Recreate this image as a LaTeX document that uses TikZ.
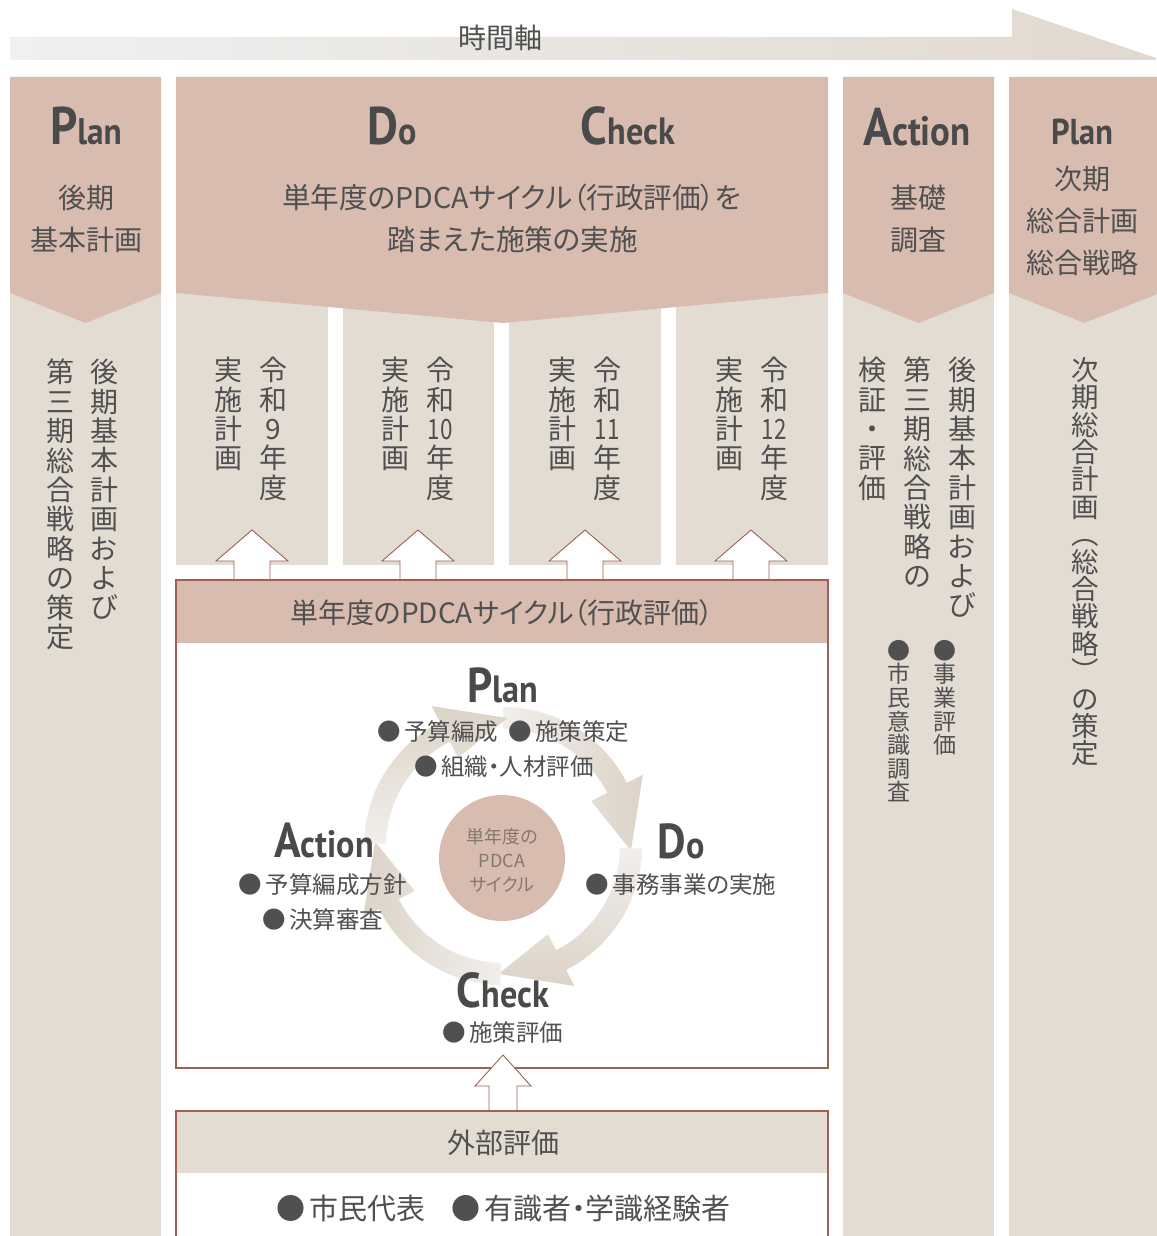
\documentclass[tikz,border=0pt]{standalone}
\usepackage{fontspec}
\usepackage{graphicx}
\setmainfont{Noto Sans CJK JP}[RawFeature=+palt]
\newfontfamily\latf{PT Sans}[FakeStretch=0.9]
\definecolor{hpink}{HTML}{D9BCB0}
\definecolor{beige}{HTML}{E2DCD3}
\definecolor{tgray}{HTML}{505050}
\definecolor{lgray}{HTML}{4A4A4A}
\definecolor{lineR}{HTML}{9E5F55}
\definecolor{ringL}{HTML}{F1EFEC}
\definecolor{ringD}{HTML}{DCD3C8}
\definecolor{axL}{HTML}{F0F0F0}
\definecolor{axD}{HTML}{E0D9CF}
\definecolor{circ}{HTML}{D8BCB0}
\definecolor{ctext}{HTML}{857870}
\newcommand\BI[4]{{\latf\bfseries\fontsize{#1}{#1}\selectfont #2}{\latf\bfseries\fontsize{#3}{#3}\selectfont #4}}
\newcommand\bu{●\hspace{0.15em}}
\newcommand\hollowup[6]{%
  \fill[white] (#1-#6,#4) -- (#1-#6,#3) -- (#1-#5,#3) -- (#1,#2) -- (#1+#5,#3) -- (#1+#6,#3) -- (#1+#6,#4) -- cycle;
  \draw[arrline] (#1-#6,#4) -- (#1-#6,#3) -- (#1-#5,#3) -- (#1,#2) -- (#1+#5,#3) -- (#1+#6,#3) -- (#1+#6,#4);}
\tikzset{
  hdr/.style={fill=hpink},
  bodyb/.style={fill=beige},
  arrline/.style={draw=lineR, line width=0.9pt},
  boxline/.style={draw=lineR, line width=1.1pt},
  jp/.style={text=tgray, inner sep=0pt, font=\fontsize{28}{28.8}\selectfont},
  jps/.style={text=tgray, inner sep=0pt, font=\fontsize{23.5}{28}\selectfont},
  vt/.style={text=tgray, inner sep=0pt, align=center, anchor=north, font=\fontsize{28}{29.4}\selectfont},
  vts/.style={text=tgray, inner sep=0pt, align=center, anchor=north, font=\fontsize{23}{23.6}\selectfont},
  lat/.style={text=lgray, inner sep=0pt, anchor=base},
}
\begin{document}
\begin{tikzpicture}[x=1pt,y=-1pt]
\useasboundingbox (0,0) rectangle (1156,1236);
\fill[white] (0,0) rectangle (1156,1236);
% time axis
\path[left color=axL, right color=axD] (10,37) -- (1012,37) -- (1012,9) -- (1156,58) -- (1156,60) -- (10,60) -- cycle;
\node[jp] (axis) at (500,38) {時間軸};
% column 1
\fill[bodyb] (10,77) rectangle (161,1236);
\fill[hdr] (10,77) -- (161,77) -- (161,293) -- (85.5,323) -- (10,293) -- cycle;
% column 2
\fill[bodyb] (176,293) rectangle (328,565);
\fill[bodyb] (343,293) rectangle (494,565);
\fill[bodyb] (509,293) rectangle (661,565);
\fill[bodyb] (676,293) rectangle (828,565);
\fill[hdr] (176,77) -- (828,77) -- (828,293) -- (503,323) -- (176,293) -- cycle;
% column 3
\fill[bodyb] (843,77) rectangle (994,1236);
\fill[hdr] (843,77) -- (994,77) -- (994,293) -- (918.5,323) -- (843,293) -- cycle;
% column 4
\fill[bodyb] (1009,77) rectangle (1160,1236);
\fill[hdr] (1009,77) -- (1160,77) -- (1160,293) -- (1084.5,323) -- (1009,293) -- cycle;

% headers
\node[lat] (plan1) at (86,145) {\BI{53}{P}{37}{lan}};
\node[jp] (c1a) at (86,198) {後期};
\node[jp] (c1b) at (86,240) {基本計画};
\node[lat] (do1) at (392,145) {\BI{53}{D}{38}{o}};
\node[lat] (check1) at (628,145) {\BI{53}{C}{38}{heck}};
\node[jp, font=\fontsize{28.6}{29}\selectfont] (c2a) at (512,198) {単年度のPDCAサイクル（行政評価）を};
\node[jp, font=\fontsize{28.6}{29}\selectfont] (c2b) at (513,240) {踏まえた施策の実施};
\node[lat] (act1) at (917,146) {\BI{53}{A}{41}{ction}};
\node[jp] (c3a) at (918,198) {基礎};
\node[jp] (c3b) at (918,240) {調査};
\node[lat] (plan2) at (1082,145) {\BI{36}{Plan}{36}{}};
\node[jp] (c4a) at (1082,179) {次期};
\node[jp] (c4b) at (1082,221) {総合計画};
\node[jp] (c4c) at (1082,263) {総合戦略};

% vertical texts
\node[vt] (v1a) at (104,359) {後\\期\\基\\本\\計\\画\\お\\よ\\び};
\node[vt] (v1b) at (60,359) {第\\三\\期\\総\\合\\戦\\略\\の\\策\\定};
\node[vt] (y9a) at (273,357) {令\\和\\9\\年\\度};
\node[vt] (y9b) at (228,357) {実\\施\\計\\画};
\node[vt] (y10a) at (440,357) {令\\和\\\scalebox{0.8}[1]{10}\\年\\度};
\node[vt] (y10b) at (395,357) {実\\施\\計\\画};
\node[vt] (y11a) at (607,357) {令\\和\\\scalebox{0.8}[1]{11}\\年\\度};
\node[vt] (y11b) at (562,357) {実\\施\\計\\画};
\node[vt] (y12a) at (774,357) {令\\和\\\scalebox{0.8}[1]{12}\\年\\度};
\node[vt] (y12b) at (729,357) {実\\施\\計\\画};
\node[vt] (v3a) at (962,357) {後\\期\\基\\本\\計\\画\\お\\よ\\び};
\node[vt] (v3b) at (917,357) {第\\三\\期\\総\\合\\戦\\略\\の};
\node[vt] (v3c) at (872,357) {検\\証\\・\\評\\価};
\node[vts] (v3d) at (945,640) {●\\事\\業\\評\\価};
\node[vts] (v3e) at (899,640) {●\\市\\民\\意\\識\\調\\査};
\node[vt, font=\fontsize{27.5}{27.4}\selectfont] (v4) at (1085,357) {次\\期\\総\\合\\計\\画\\︵\\総\\合\\戦\\略\\︶\\の\\策\\定};

% up arrows
\hollowup{252}{530}{561}{579}{36}{18}
\hollowup{418}{530}{561}{579}{36}{18}
\hollowup{585}{530}{561}{579}{36}{18}
\hollowup{751}{530}{561}{579}{36}{18}

% PDCA box
\fill[white] (176,580) rectangle (828,1068);
\fill[hdr] (176,580) rectangle (828,643);
\draw[boxline] (176,580) rectangle (828,1068);
\node[jp] (pdcat) at (502,613) {単年度のPDCAサイクル（行政評価）};

% ring
\begin{scope}[shift={(503,846)}]
\path[left color=ringL, right color=ringD] (90:139pt) arc[start angle=90, end angle=27, radius=139pt] -- (27:157pt) -- (-2:128pt) -- (27:99pt) -- (27:117pt) arc[start angle=27, end angle=90, radius=117pt] -- cycle;
\path[top color=ringL, bottom color=ringD] (-1:139pt) arc[start angle=-1, end angle=-63, radius=139pt] -- (-63:157pt) -- (-92:128pt) -- (-63:99pt) -- (-63:117pt) arc[start angle=-63, end angle=-1, radius=117pt] -- cycle;
\path[left color=ringD, right color=ringL] (-91:139pt) arc[start angle=-91, end angle=-153, radius=139pt] -- (-153:157pt) -- (-182:128pt) -- (-153:99pt) -- (-153:117pt) arc[start angle=-153, end angle=-91, radius=117pt] -- cycle;
\path[top color=ringD, bottom color=ringL] (179:139pt) arc[start angle=179, end angle=117, radius=139pt] -- (117:157pt) -- (88:128pt) -- (117:99pt) -- (117:117pt) arc[start angle=117, end angle=179, radius=117pt] -- cycle;
\end{scope}
\fill[circ] (502,858) circle[radius=63pt];
\node[align=center, text=ctext, inner sep=0pt, font=\fontsize{18}{24}\selectfont] (ctr) at (502,860) {単年度の\\PDCA\\サイクル};

% cycle labels
\node[lat] (planc) at (503,702) {\BI{49}{P}{38}{lan}};
\node[jps] (p1) at (438,732) {\bu 予算編成};
\node[jps] (p2) at (569,732) {\bu 施策策定};
\node[jps] (p3) at (504,767) {\bu 組織・人材評価};
\node[lat] (doc) at (681,858) {\BI{49}{D}{38}{o}};
\node[jps] (d1) at (681,885) {\bu 事務事業の実施};
\node[lat] (actc) at (324,857) {\BI{49}{A}{38}{ction}};
\node[jps] (a1) at (323,885) {\bu 予算編成方針};
\node[jps] (a2) at (323,920) {\bu 決算審査};
\node[lat] (chc) at (503,1007) {\BI{49}{C}{38}{heck}};
\node[jps] (k1) at (503,1033) {\bu 施策評価};

% bottom arrow
\hollowup{503}{1055}{1086}{1110}{28}{14}

% external evaluation box
\fill[white] (176,1111) rectangle (828,1240);
\fill[bodyb] (176,1111) rectangle (828,1173);
\draw[boxline] (176,1240) -- (176,1111) -- (828,1111) -- (828,1240);
\node[jp] (ext) at (503,1143) {外部評価};
\node[jp, font=\fontsize{29}{30}\selectfont] (e1) at (351,1208) {\bu 市民代表};
\node[jp, font=\fontsize{29}{30}\selectfont] (e2) at (591,1208) {\bu 有識者・学識経験者};
\end{tikzpicture}
\end{document}
